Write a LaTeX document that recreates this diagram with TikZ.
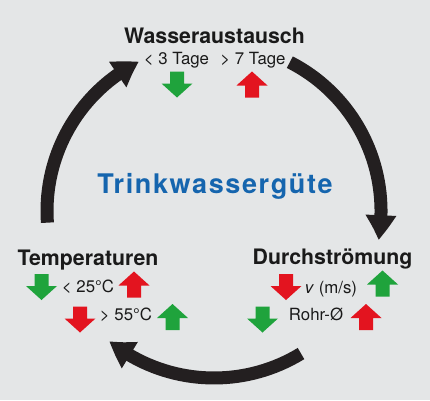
\documentclass[tikz,border=0pt]{standalone}
\usepackage{fontspec}
\setmainfont{TeX Gyre Heros}
\newfontfamily\titlefont[LetterSpace=6]{TeX Gyre Heros}
\usetikzlibrary{arrows.meta,bending}
\definecolor{bg}{HTML}{E4E6E7}
\definecolor{ringc}{HTML}{231F20}
\definecolor{grn}{HTML}{1FA33C}
\definecolor{rd}{HTML}{E3141F}
\definecolor{blu}{HTML}{1565AE}
\definecolor{txt}{HTML}{1A1A1A}
\tikzset{
  uparr/.pic={\fill[#1] (-7,-13) -- (-7,-1) -- (-15.5,-1) -- (0,13) -- (15.5,-1) -- (7,-1) -- (7,-13) -- cycle;},
  downarr/.pic={\fill[#1] (-7,13) -- (-7,1) -- (-15.5,1) -- (0,-13) -- (15.5,1) -- (7,1) -- (7,13) -- cycle;},
}
\begin{document}
\begin{tikzpicture}[x=1pt,y=1pt,
  head/.style={font=\fontsize{21.3}{24}\selectfont\bfseries, text=txt, anchor=base, inner sep=0pt},
  sub/.style={font=\fontsize{16.8}{20}\selectfont, text=txt, anchor=base, inner sep=0pt},
  ring/.style={draw=ringc, line width=13pt, -{Triangle[width=29pt,length=25pt,bend]}},
  titlestyle/.style={font=\titlefont\fontsize{27}{30}\selectfont\bfseries, text=blu, anchor=base, inner sep=0pt},
 ]
\fill[bg] (0,0) rectangle (430,400);
\useasboundingbox (0,0) rectangle (430,400);
\coordinate (C) at (214,189);
\draw[ring] ([shift={(184:167pt)}]C) arc[start angle=184,end angle=116.7,radius=167pt];
\draw[ring] ([shift={(63:167pt)}]C) arc[start angle=63,end angle=-10,radius=167pt];
\draw[ring] ([shift={(-58.6:167pt)}]C) arc[start angle=-58.6,end angle=-128.8,radius=167pt];

\node[head] (wa) at (214.5,357) {Wasseraustausch};
\node[sub] (t3) at (176.5,336) {< 3 Tage};
\node[sub] (t7) at (253,336) {> 7 Tage};
\pic (a1) at (177,315.5) {downarr=grn};
\pic (a2) at (252,315.5) {uparr=rd};

\node[titlestyle] (tg) at (215,207) {Trinkwassergüte};

\node[head] (tp) at (88,135) {Temperaturen};
\pic (b1) at (41.5,113) {downarr=grn};
\node[sub] (c25) at (88,108) {< 25°C};
\pic (b2) at (134,115.5) {uparr=rd};
\pic (b3) at (80,80.5) {downarr=rd};
\node[sub] (c55) at (126,80) {> 55°C};
\pic (b4) at (172.5,83) {uparr=grn};

\node[head] (ds) at (332.5,136) {Durchströmung};
\pic (d1) at (286,113) {downarr=rd};
\node[sub] (vms) at (331,107) {\textit{v} (m/s)};
\pic (d2) at (382.5,116.5) {uparr=grn};
\pic (d3) at (262.5,80.5) {downarr=grn};
\node[sub] (rohr) at (316,80) {Rohr-Ø};
\pic (d4) at (366,83) {uparr=rd};
\end{tikzpicture}
\end{document}
